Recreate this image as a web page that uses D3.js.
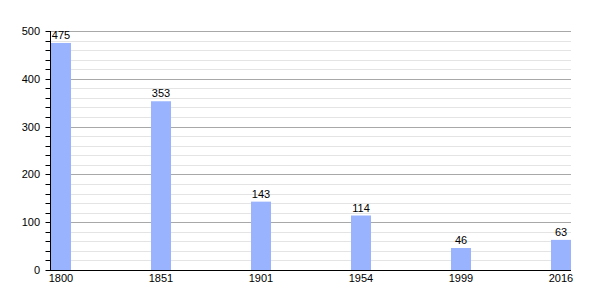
<!DOCTYPE html>
<html>
<head>
<meta charset="utf-8">
<script src="https://cdn.jsdelivr.net/npm/d3@7"></script>
<style>
  body { margin: 0; background: #fff; }
  text { font-family: "Liberation Sans", Arial, sans-serif; font-size: 11px; fill: #000; }
</style>
</head>
<body>
<div id="chart"></div>
<script>
// Data
const years = ["1800", "1851", "1901", "1954", "1999", "2016"]
const population = [475, 353, 143, 114, 46, 63]
const yTicks = [0, 100, 200, 300, 400, 500]

const width = 600
const height = 300
const plotLeft = 50, plotRight = 571, plotTop = 31, plotBottom = 270

const svg = d3.select("#chart")
    .append("svg")
    .attr("width", width)
    .attr("height", height)

const x = d3.scaleBand()
    .domain(years)
    .range([plotLeft + 1, plotRight])
    .paddingInner(0.8)
    .paddingOuter(0)

const y = d3.scaleLinear()
    .domain([0, 500])
    .range([plotBottom, plotTop])

// Minor gridlines every 20
const minor = d3.range(20, 500, 20).filter(v => v % 100 != 0)
svg.append("g")
    .selectAll("line")
    .data(minor)
    .join("line")
        .attr("x1", plotLeft)
        .attr("x2", plotRight)
        .attr("y1", d => Math.round(y(d)) + 0.5)
        .attr("y2", d => Math.round(y(d)) + 0.5)
        .style("stroke", "#e4e4e4")

// Major gridlines
svg.append("g")
    .selectAll("line")
    .data(yTicks.slice(1))
    .join("line")
        .attr("x1", plotLeft)
        .attr("x2", plotRight)
        .attr("y1", d => Math.round(y(d)) + 0.5)
        .attr("y2", d => Math.round(y(d)) + 0.5)
        .style("stroke", "#a8a8a8")

// Bars
svg.append("g")
    .selectAll("rect")
    .data(population)
    .join("rect")
        .attr("x", (d, i) => x(years[i]))
        .attr("y", d => y(d))
        .attr("width", x.bandwidth())
        .attr("height", d => plotBottom - y(d))
        .attr("fill", "#99b3ff")

// Value labels
svg.append("g")
    .selectAll("text")
    .data(population)
    .join("text")
        .attr("x", (d, i) => x(years[i]) + x.bandwidth() / 2)
        .attr("y", d => y(d) - 4)
        .attr("text-anchor", "middle")
        .text(d => d)

// Y axis
const yAxis = svg.append("g")
    .attr("transform", `translate(${plotLeft + 0.5},0)`)
    .call(d3.axisLeft(y).tickValues(d3.range(0, 501, 20)).tickSize(5).tickFormat(""))
yAxis.select(".domain").remove()
yAxis.selectAll("line").attr("stroke", "#000")
yAxis.selectAll(".tick").attr("transform", d => `translate(0,${Math.round(y(d)) + 0.5})`)

svg.append("g")
    .selectAll("text")
    .data(yTicks)
    .join("text")
        .attr("x", 40)
        .attr("y", d => y(d) + 4)
        .attr("text-anchor", "end")
        .text(d => d)

svg.append("line")
    .attr("x1", plotLeft + 0.5).attr("x2", plotLeft + 0.5)
    .attr("y1", plotTop).attr("y2", plotBottom + 1)
    .style("stroke", "#000")

// X axis
svg.append("line")
    .attr("x1", plotLeft).attr("x2", plotRight)
    .attr("y1", plotBottom + 0.5).attr("y2", plotBottom + 0.5)
    .style("stroke", "#000")

svg.append("g")
    .selectAll("text")
    .data(years)
    .join("text")
        .attr("x", d => x(d) + x.bandwidth() / 2)
        .attr("y", plotBottom + 12)
        .attr("text-anchor", "middle")
        .text(d => d)
</script>
</body>
</html>
